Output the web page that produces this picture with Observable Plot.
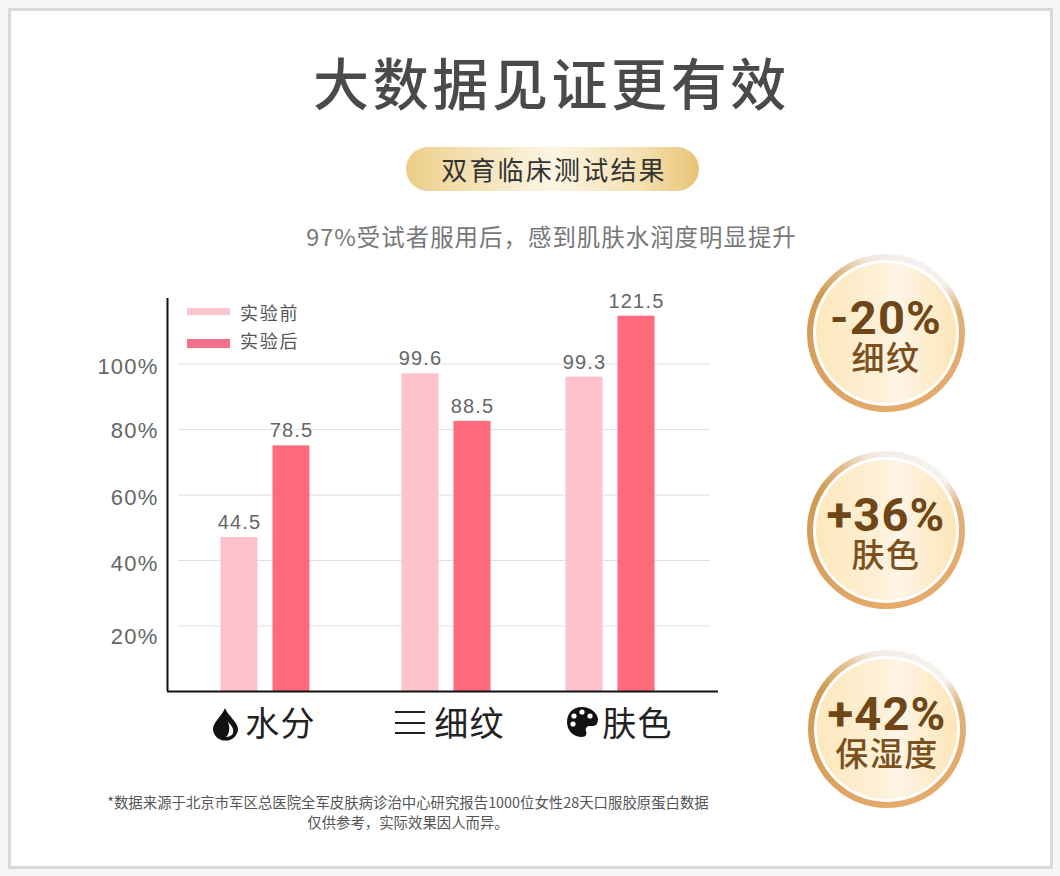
<!DOCTYPE html>
<html lang="zh">
<head>
<meta charset="utf-8">
<script src="https://cdn.jsdelivr.net/npm/d3@7"></script>
<script src="https://cdn.jsdelivr.net/npm/@observablehq/plot@0.6"></script>
<style>
html,body{margin:0;padding:0;width:1060px;height:876px;overflow:hidden;background:#f6f6f6;font-family:"Noto Sans CJK SC","Noto Sans",sans-serif}
#frame{position:absolute;left:8px;top:8px;width:1039px;height:855px;background:#fff;border:3px solid #d9d9d9}
.t{position:absolute;white-space:nowrap;text-align:center}
#title{left:0;width:1103px;top:42px;font-size:56px;line-height:78px;letter-spacing:3.6px;color:#4a4a4a;font-weight:500}
#pill{left:406px;top:147px;width:293px;height:44px;border-radius:22px;background:linear-gradient(90deg,#edcd88 0%,#f1dba6 15%,#fcf5e4 50%,#f4e0b0 80%,#e9c376 100%);font-size:26px;line-height:44px;letter-spacing:2.2px;color:#333;text-indent:3px}
#sub{left:306px;width:491px;top:219px;font-size:23.4px;line-height:34px;color:#777;letter-spacing:1.05px}
#foot{left:0;width:816px;top:792px;font-size:14.4px;line-height:19.5px;color:#555}
#chart{position:absolute;left:0;top:280px}
#icons{position:absolute;left:0;top:0}
.sw{position:absolute;left:187px;width:43px}
.lg{position:absolute;left:240px;font-size:18px;line-height:24px;color:#555;letter-spacing:1.8px}
.badge{position:absolute;width:158px;height:158px;border-radius:50%;background:conic-gradient(#f3eee9 0deg,#f6f2ee 50deg,#dfb07a 72deg,#e4ab6c 120deg,#e5ab6b 180deg,#d9a05e 240deg,#cf9a52 300deg,#e2bd8c 325deg,#f1e6da 345deg,#f3eee9 360deg)}
.badge::before{content:"";position:absolute;left:6px;top:6px;width:146px;height:146px;border-radius:50%;background:#fff}
.badge::after{content:"";position:absolute;left:9px;top:9px;width:140px;height:140px;border-radius:50%;background:linear-gradient(90deg,#fde8bd 0%,#fdf0d6 45%,#fef5e6 58%,#fde5b6 100%)}
.badge div{position:absolute;left:0;width:158px;text-align:center;z-index:2;color:#6e4617;white-space:nowrap}
.pct{top:38px;font:700 47px/52px Roboto,sans-serif;letter-spacing:1.2px}
.badge .nm{top:80px;font-size:33px;line-height:44px;font-weight:500;color:#7a5020;letter-spacing:1.5px}
</style>
</head>
<body>
<div id="frame"></div>
<div class="t" id="title">大数据见证更有效</div>
<div class="t" id="pill">双育临床测试结果</div>
<div class="t" id="sub">97%受试者服用后，感到肌肤水润度明显提升</div>
<div id="chart"></div>
<div class="sw" style="top:308px;height:7px;background:#fcc5cf"></div>
<div class="lg" style="top:300px">实验前</div>
<div class="sw" style="top:339px;height:9px;background:#f4708a"></div>
<div class="lg" style="top:328px">实验后</div>
<svg id="icons" width="1060" height="876">
  <path d="M225 708 C228 716 238 722 238 729 A12.5 11.5 0 0 1 213 729 C213 722 222 716 225 708Z" fill="#111"/>
  <path d="M228 722 C232 726 234 729 233 733 C232 736 228 737 226 737 C230 733 230 727 228 722Z" fill="#fff"/>
  <path d="M395 712H425M395 723H425M395 733H425" stroke="#222" stroke-width="1.8" fill="none"/>
  <path d="M582 707 C572 707 567 714 567 722 C567 731 574 737 582 737 C586 737 587 734 586 731 C585 728 587 726 590 726 L593 726 C597 726 598 722 598 719 C597 712 590 707 582 707Z" fill="#111"/>
  <circle cx="574" cy="716" r="2.6" fill="#fff"/><circle cx="582" cy="712" r="2.6" fill="#fff"/><circle cx="590" cy="716" r="2.6" fill="#fff"/><circle cx="573" cy="724" r="2.6" fill="#fff"/>
</svg>
<div class="badge" style="left:807px;top:254px"><div class="pct">-20%</div><div class="nm">细纹</div></div>
<div class="badge" style="left:807px;top:451px"><div class="pct">+36%</div><div class="nm">肤色</div></div>
<div class="badge" style="left:808px;top:650px"><div class="pct">+42%</div><div class="nm">保湿度</div></div>
<div class="t" id="foot">*数据来源于北京市军区总医院全军皮肤病诊治中心研究报告1000位女性28天口服胶原蛋白数据<br>仅供参考，实际效果因人而异。</div>
<script>
// categories and series
const categories = ["水分", "细纹", "肤色"];
const seriesNames = ["实验前", "实验后"];
// bar heights as drawn, read against the percent axis
const beforeHeights = [47, 97, 96];
const afterHeights = [75, 82.5, 114.6];
// value labels printed over the bars
const beforeLabels = ["44.5", "99.6", "99.3"];
const afterLabels = ["78.5", "88.5", "121.5"];
// axis
const gridValues = [20, 40, 60, 80, 100];
const tickLabels = ["20%", "40%", "60%", "80%", "100%"];
const tickLabelValues = [16.8, 38.9, 59.2, 79.7, 99]; // printed slightly off the grid lines in the source

// layout along the category axis (scale units)
const groupCenters = [98, 279, 443];
const labelCenters = [113, 302, 470];
const barOffset = 26, barHalf = 18.5;
const colors = ["#ffc2cc", "#ff6b7c"];

const bars = categories.flatMap((c, i) => [
  {c, s: seriesNames[0], v: beforeHeights[i], label: beforeLabels[i], cx: groupCenters[i] - barOffset},
  {c, s: seriesNames[1], v: afterHeights[i], label: afterLabels[i], cx: groupCenters[i] + barOffset}
]);
const ticks = tickLabels.map((t, i) => ({t, v: tickLabelValues[i]}));

const chart = Plot.plot({
  width: 1060, height: 480,
  marginLeft: 167, marginRight: 342, marginTop: 18, marginBottom: 69,
  style: {background: "transparent", overflow: "visible", letterSpacing: "1.2px"},
  x: {domain: [0, 551], axis: null},
  y: {domain: [0, 120], axis: null},
  color: {domain: seriesNames, range: colors},
  marks: [
    Plot.ruleY(gridValues, {x1: 11, x2: 543, stroke: "#e0e0e0", strokeWidth: 1}),
    Plot.rectY(bars, {x1: d => d.cx - barHalf, x2: d => d.cx + barHalf, y1: 0, y2: "v", fill: "s"}),
    Plot.text(bars, {x: "cx", y: "v", text: "label", dy: -15, fontSize: 20, fill: "#666", fontFamily: "Liberation Sans"}),
    Plot.text(ticks, {x: 0, y: "v", text: "t", textAnchor: "end", dx: -9, fontSize: 22, fill: "#666", fontFamily: "Liberation Sans"}),
    Plot.text(categories, {x: (d, i) => labelCenters[i], y: 0, text: d => d, dy: 34, fontSize: 34, fill: "#222", fontFamily: "Noto Sans CJK SC"}),
    Plot.ruleX([0], {y1: 0, y2: 120, stroke: "#111", strokeWidth: 2}),
    Plot.ruleY([0], {x1: 0, x2: 551, stroke: "#111", strokeWidth: 2})
  ]
});
document.getElementById("chart").appendChild(chart);
</script>
</body>
</html>
